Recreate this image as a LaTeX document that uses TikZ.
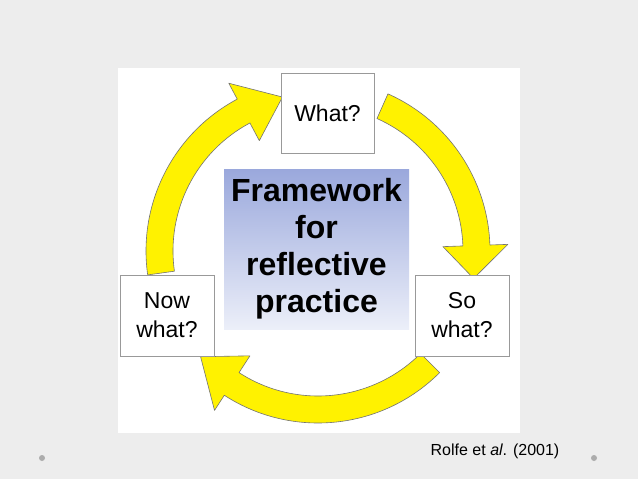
\documentclass[tikz,border=0pt]{standalone}
\usepackage{fontspec}
\setmainfont{Liberation Sans}
\begin{document}
\begin{tikzpicture}[x=1pt,y=-1pt,
  box/.style={draw=gray!80,fill=white,line width=0.8pt,align=center,font=\fontsize{23}{26}\selectfont,inner sep=0pt},
  arr/.style={fill=yellow,draw=gray!90!black,line width=0.6pt,line join=round}]
\fill[gray!14] (0,0) rectangle (638,479);
\useasboundingbox (0,0) rectangle (638,479);
\fill[white] (118,68) rectangle (520,433);
\fill[gray!65] (42,458) circle (3);
\fill[gray!65] (594,458) circle (3);
\begin{scope}[shift={(318,251)},y=1pt]
\def\ri{145}\def\ro{172}\def\hi{125}\def\ho{190}\def\rm{158}
\draw[arr] (188:\ro) arc[start angle=188,end angle=118,radius=\ro] -- (118:\ho) -- (103:\rm) -- (118:\hi) -- (118:\ri) arc[start angle=118,end angle=188,radius=\ri] -- cycle;
\draw[arr] (66:\ro) arc[start angle=66,end angle=2,radius=\ro] -- (2:\ho) -- (-10:\rm) -- (2:\hi) -- (2:\ri) arc[start angle=2,end angle=66,radius=\ri] -- cycle;
\draw[arr] (-45:\ro) arc[start angle=-45,end angle=-123,radius=\ro] -- (-123:\ho) -- (-138:\rm) -- (-123:\hi) -- (-123:\ri) arc[start angle=-123,end angle=-45,radius=\ri] -- cycle;
\end{scope}
\node[box,minimum width=93,minimum height=80] (what) at (327.5,113) {What?};
\node[box,minimum width=94,minimum height=81,font=\fontsize{23}{29}\selectfont] (now) at (167,315.5) {Now\\what?};
\node[box,minimum width=94,minimum height=81,font=\fontsize{23}{29}\selectfont] (so) at (462,315.5) {So\\what?};
\shade[top color={rgb,255:red,154;green,168;blue,220},bottom color={rgb,255:red,236;green,239;blue,249}] (224,169) rectangle (409,329);
\node[align=center,font=\bfseries\fontsize{32}{37}\selectfont] (fw) at (316.5,249) {Framework\\for\\reflective\\practice};
\node[font=\fontsize{16}{18}\selectfont] (cite) at (495,451) {Rolfe et \textit{al}. (2001)};
\end{tikzpicture}
\end{document}
